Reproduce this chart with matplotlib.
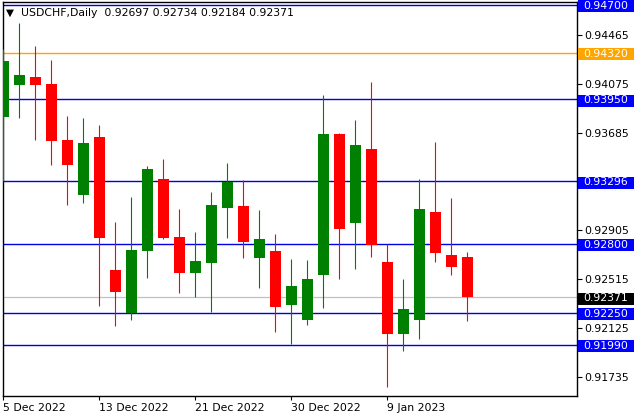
import matplotlib
matplotlib.use("Agg")
import matplotlib.pyplot as plt
import matplotlib.transforms as mtransforms
from matplotlib.patches import Rectangle

# ---- data ----
dates = ["2022-12-05", "2022-12-06", "2022-12-07", "2022-12-08", "2022-12-09",
         "2022-12-12", "2022-12-13", "2022-12-14", "2022-12-15", "2022-12-16",
         "2022-12-19", "2022-12-20", "2022-12-21", "2022-12-22", "2022-12-23",
         "2022-12-27", "2022-12-28", "2022-12-29", "2022-12-30", "2023-01-02",
         "2023-01-03", "2023-01-04", "2023-01-05", "2023-01-06", "2023-01-09",
         "2023-01-10", "2023-01-11", "2023-01-12", "2023-01-13", "2023-01-16"]
opens = [0.93807, 0.94066, 0.94128, 0.94072, 0.93626, 0.93190, 0.93652, 0.92590,
         0.92245, 0.92744, 0.93315, 0.92853, 0.92569, 0.92648, 0.93086, 0.93100,
         0.92688, 0.92741, 0.92309, 0.92194, 0.92553, 0.93674, 0.92967, 0.93554,
         0.92654, 0.92083, 0.92194, 0.93052, 0.92710, 0.92697]
highs = [0.94351, 0.94558, 0.94375, 0.94263, 0.93817, 0.93801, 0.93745, 0.92972,
         0.93172, 0.93419, 0.93474, 0.93076, 0.92893, 0.93211, 0.93443, 0.93307,
         0.93068, 0.92877, 0.92680, 0.92672, 0.93984, 0.93680, 0.93785, 0.94088,
         0.92800, 0.92521, 0.93315, 0.93610, 0.93164, 0.92734]
lows = [0.93299, 0.93803, 0.93628, 0.93429, 0.93110, 0.93126, 0.92306, 0.92146,
        0.92194, 0.92529, 0.92835, 0.92409, 0.92377, 0.92258, 0.92847, 0.92688,
        0.92449, 0.92099, 0.92003, 0.92154, 0.92290, 0.92521, 0.92600, 0.92696,
        0.91660, 0.91947, 0.92043, 0.92656, 0.92553, 0.92184]
closes = [0.94255, 0.94144, 0.94066, 0.93620, 0.93429, 0.93602, 0.92847, 0.92417,
          0.92749, 0.93395, 0.92847, 0.92569, 0.92662, 0.93108, 0.93294, 0.92816,
          0.92837, 0.92298, 0.92463, 0.92518, 0.93674, 0.92919, 0.93586, 0.92792,
          0.92083, 0.92279, 0.93076, 0.92728, 0.92616, 0.92371]

date_label_dates = ["2022-12-05", "2022-12-13", "2022-12-21", "2022-12-30", "2023-01-09"]
date_labels = ["5 Dec 2022", "13 Dec 2022", "21 Dec 2022", "30 Dec 2022", "9 Jan 2023"]
price_ticks = [0.91735, 0.92125, 0.92515, 0.92905, 0.93295, 0.93685, 0.94075, 0.94465]

blue_levels = [0.94700, 0.93950, 0.93296, 0.92800, 0.92250, 0.91990]
orange_level = 0.94320
bid_level = 0.92371

symbol = "USDCHF,Daily"

# ---- style ----
FS = 7.8
GREEN = "#008000"
RED = "#FF0000"
LINE_BLUE = "#0000E0"
BOX_BLUE = "#0000FF"
ORANGE = "#FFA500"

plt.rcParams["font.family"] = ["DejaVu Sans"]

fig = plt.figure(figsize=(6.4, 4.2), dpi=100)
W, H = 640, 420
ax = fig.add_axes([2.5 / W, (H - 396) / H, 574 / W, (396 - 2.3) / H])

x = list(range(len(dates)))
colors = [GREEN if c >= o else RED for o, c in zip(opens, closes)]

# wicks
ax.vlines(x, lows, highs, colors=colors, linewidth=0.8, zorder=3)
# bodies
bottoms = [min(o, c) for o, c in zip(opens, closes)]
heights = [max(abs(c - o), 0.00003) for o, c in zip(opens, closes)]
ax.bar(x, heights, bottom=bottoms, width=0.69, color=colors, linewidth=0, zorder=4)

ax.set_xlim(-0.05, 35.825)
ax.set_ylim(0.91586, 0.94723)

# horizontal levels
for lv in blue_levels:
    ax.axhline(lv, color=LINE_BLUE, linewidth=1.0, zorder=2)
ax.axhline(orange_level, color=ORANGE, linewidth=1.0, zorder=2)
ax.axhline(bid_level, color="#C0C0C0", linewidth=0.9, zorder=1)

# axes styling
for s in ax.spines.values():
    s.set_color("black")
    s.set_linewidth(1.0)
ax.yaxis.tick_right()
ax.set_yticks(price_ticks)
ax.set_yticklabels([f"{t:.5f}" for t in price_ticks])
ax.tick_params(axis="y", direction="out", length=3.5, width=0.8, pad=2.0,
               labelsize=FS, colors="black")

tick_pos = [dates.index(d) for d in date_label_dates]
ax.set_xticks(tick_pos)
ax.set_xticklabels(date_labels)
ax.tick_params(axis="x", direction="out", length=3.0, width=0.8, pad=2.2,
               labelsize=FS, colors="black")
for lab in ax.get_xticklabels():
    lab.set_horizontalalignment("left")

# price label boxes on the right
trans = mtransforms.blended_transform_factory(ax.transAxes, ax.transData)
px = (0.94723 - 0.91586) / (396 - 2.3)  # price per pixel
box_h = 12 * px
box_w = 56 / 574.0
box_x = 1.0021
text_x = 1.0118


def level_box(level, fc):
    ax.add_patch(Rectangle((box_x, level - box_h / 2 - 1.2 * px), box_w, box_h,
                           transform=trans, facecolor=fc, edgecolor="none",
                           clip_on=False, zorder=10))
    ax.text(text_x, level - 1.0 * px, f"{level:.5f}", transform=trans, color="white",
            fontsize=FS, va="center", ha="left", clip_on=False, zorder=11)


for lv in blue_levels:
    level_box(lv, BOX_BLUE)
level_box(orange_level, ORANGE)
level_box(bid_level, "black")

# header
fig.text(5.5 / W, 1 - 12.3 / H, "\u25BC", fontsize=7.5, va="center", ha="left", color="black")
header = f"{symbol}  {opens[-1]:.5f} {highs[-1]:.5f} {lows[-1]:.5f} {closes[-1]:.5f}"
fig.text(21 / W, 1 - 12.5 / H, header, fontsize=FS, va="center", ha="left", color="#000000")

fig.savefig("out.png", dpi=100, facecolor="white")
